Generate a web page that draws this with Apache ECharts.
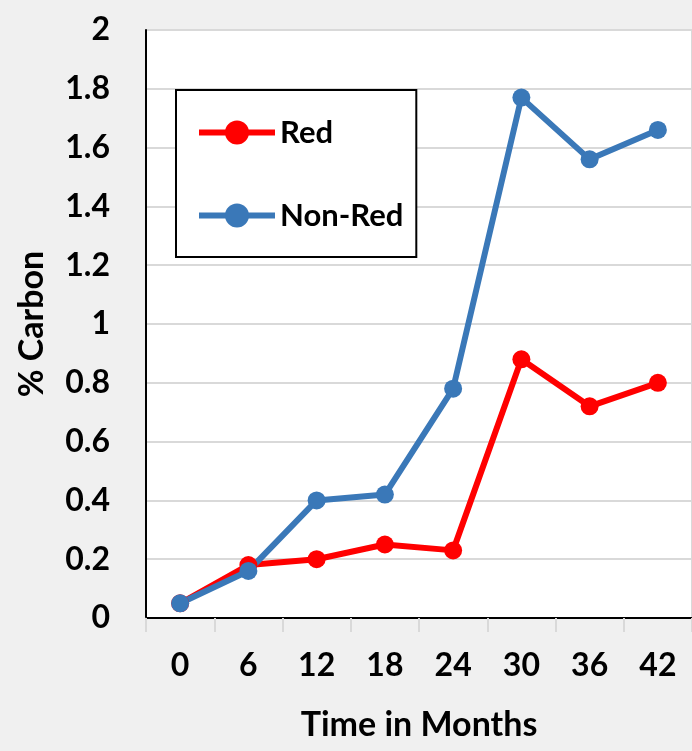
<!DOCTYPE html>
<html><head><meta charset="utf-8">
<script src="https://cdn.jsdelivr.net/npm/echarts@6/dist/echarts.min.js"></script>
<style>html,body{margin:0;padding:0;background:#f0f0f0}#c{width:692px;height:751px}</style>
</head><body><div id="c"></div>
<script>
var months = ['0','6','12','18','24','30','36','42'];
var redValues = [0.05, 0.18, 0.20, 0.25, 0.23, 0.88, 0.72, 0.80];
var nonRedValues = [0.05, 0.16, 0.40, 0.42, 0.78, 1.77, 1.56, 1.66];
var yTicks = [0, 0.2, 0.4, 0.6, 0.8, 1, 1.2, 1.4, 1.6, 1.8, 2];

var FONT = 'Lato';
var chart = echarts.init(document.getElementById('c'));
chart.setOption({
  backgroundColor: '#f0f0f0',
  animation: false,
  grid: {left: 146, top: 30, right: 0, bottom: 133, show: true, backgroundColor: '#ffffff', borderWidth: 0},
  legend: {
    left: 176, top: 90, orient: 'vertical',
    backgroundColor: '#ffffff', borderColor: '#000000', borderWidth: 2,
    padding: [27, 13, 26, 20],
    itemWidth: 76, itemHeight: 30, itemGap: 52,
    lineStyle: {width: 6},
    textStyle: {fontFamily: FONT, fontSize: 31, fontWeight: 'bold', color: '#000', lineHeight: 30},
    data: ['Red', 'Non-Red']
  },
  xAxis: [{
    type: 'category', data: months, boundaryGap: true,
    name: 'Time in Months', nameLocation: 'middle', nameGap: 90,
    nameTextStyle: {fontFamily: FONT, fontSize: 34, fontWeight: 'bold', color: '#000'},
    axisLine: {lineStyle: {color: '#d9d9d9', width: 2}},
    axisTick: {show: true, length: 14, lineStyle: {color: '#d9d9d9', width: 2}},
    axisLabel: {fontFamily: FONT, fontSize: 32, fontWeight: 'bold', color: '#000', margin: 32},
    splitLine: {show: false}
  }, {
    type: 'category', data: months, position: 'top',
    axisLine: {show: true, lineStyle: {color: '#000', width: 2}},
    axisTick: {show: false}, axisLabel: {show: false}, splitLine: {show: false}
  }],
  yAxis: [{
    type: 'value', min: 0, max: 2, interval: 0.2,
    name: '% Carbon', nameLocation: 'middle', nameGap: 97, nameRotate: 90,
    nameTextStyle: {fontFamily: FONT, fontSize: 34, fontWeight: 'bold', color: '#000'},
    axisLine: {show: true, lineStyle: {color: '#000', width: 2}},
    axisTick: {show: false},
    axisLabel: {fontFamily: FONT, fontSize: 32, fontWeight: 'bold', color: '#000', margin: 36,
      formatter: function (v) { var t = yTicks.find(function (x) { return Math.abs(x - v) < 1e-9; }); return t === undefined ? '' : String(t); }},
    splitLine: {show: true, lineStyle: {color: '#d9d9d9', width: 2}}
  }, {
    type: 'value', min: 0, max: 2, interval: 0.2, position: 'right',
    axisLine: {show: true, lineStyle: {color: '#d9d9d9', width: 2}},
    axisTick: {show: false}, axisLabel: {show: false}, splitLine: {show: false}
  }],
  series: [{
    name: 'Red', type: 'line', data: redValues,
    symbol: 'circle', symbolSize: 18,
    lineStyle: {color: '#ff0000', width: 6},
    itemStyle: {color: '#ff0000'}
  }, {
    name: 'Non-Red', type: 'line', data: nonRedValues,
    symbol: 'circle', symbolSize: 18,
    lineStyle: {color: '#3a78b8', width: 6},
    itemStyle: {color: '#3a78b8'}
  }]
});
</script></body></html>
